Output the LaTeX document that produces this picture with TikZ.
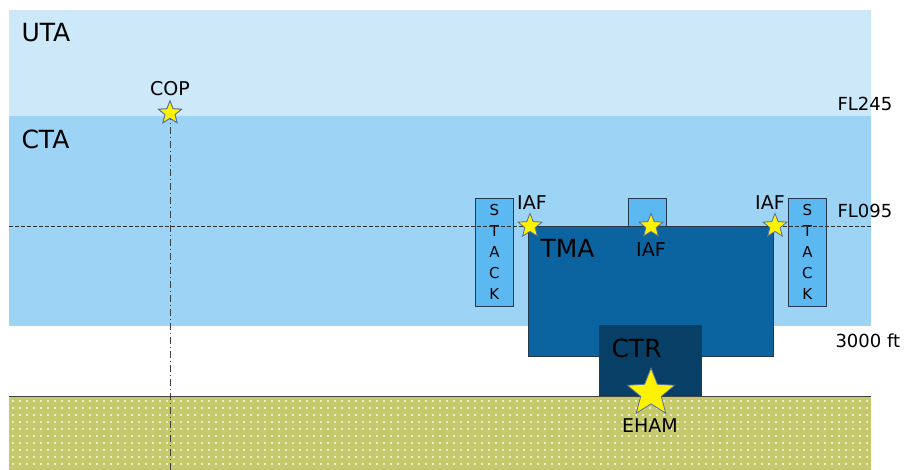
\documentclass[tikz,border=0pt]{standalone}
\usepackage{fontspec}
\setmainfont{DejaVu Sans}
\usetikzlibrary{shapes.geometric, positioning}

\definecolor{utablue}{HTML}{CDE8F9}
\definecolor{ctablue}{HTML}{9DD3F5}
\definecolor{stackblue}{HTML}{5CB8F1}
\definecolor{tmablue}{HTML}{0B64A0}
\definecolor{ctrblue}{HTML}{083F66}
\definecolor{groundgreen}{HTML}{C6C96B}
\definecolor{starrim}{HTML}{4F6DA8}
\definecolor{boxrim}{HTML}{24394F}

\begin{document}
\begin{tikzpicture}[
    x=1pt, y=-1pt,
    band/.style={draw=none, rectangle, inner sep=0pt, anchor=north west},
    airspace/.style={draw=boxrim, line width=0.8pt, rectangle, inner sep=0pt, anchor=north west},
    stackbox/.style={airspace, fill=stackblue, minimum width=38pt, minimum height=108pt,
                     align=center, font=\fontsize{15}{21}\selectfont},
    fix/.style={star, star points=5, star point ratio=2.3, inner sep=0pt,
                minimum size=25pt, fill=yellow, draw=starrim, line width=0.8pt},
    bigname/.style={font=\fontsize{25}{30}\selectfont, anchor=west},
    fixname/.style={font=\fontsize{19}{22}\selectfont},
    level/.style={font=\fontsize{18}{22}\selectfont, anchor=west},
]
\useasboundingbox (0,0) rectangle (905,470);

% --- Airspace bands ---
\node[band, fill=utablue, minimum width=862pt, minimum height=106pt] (uta) at (9,10) {};
\node[band, fill=ctablue, minimum width=862pt, minimum height=210pt] (cta) at (9,116) {};

% --- Holding stacks ---
\node[stackbox] (stackL) at (475,198) {S\\T\\A\\C\\K};
\node[stackbox] (stackR) at (788,198) {S\\T\\A\\C\\K};
\node[airspace, fill=stackblue, minimum width=38pt, minimum height=28pt] (stackM) at (628,198) {};

% --- TMA and CTR ---
\node[airspace, fill=tmablue, minimum width=245pt, minimum height=130pt] (tma) at (528,226) {};
\node[airspace, fill=ctrblue, minimum width=102pt, minimum height=71pt] (ctr) at (599,325) {};

% --- Ground ---
\node[band, fill=groundgreen, minimum width=862pt, minimum height=74pt] (ground) at (9,396) {};
\foreach \x in {12,19,...,868}
  \foreach \y in {400,407,...,466}
    \fill[white, opacity=0.65] (\x,\y) rectangle ++(1.7,1.7);
\draw[black!75, line width=0.9pt] (ground.north west) -- (ground.north east);

% --- FL095 line ---
\coordinate (fl95w) at (9,226);
\coordinate (fl95e) at (871,226);
\draw[dashed, dash pattern=on 4pt off 2pt, black!80, line width=0.6pt] (fl95w) -- (fl95e);

% --- Fixes ---
\node[fix, minimum size=24pt] (cop) at (170,113) {};
\coordinate (copfoot) at (170,470);
\draw[black!75, line width=0.7pt, dash pattern=on 7pt off 3pt on 1pt off 3pt]
    (cop.center) -- (copfoot);
\node[fix, minimum size=24pt] (cop) at (170,113) {};

\node[fix] (iafL) at (530,226) {};
\node[fix] (iafM) at (651,226) {};
\node[fix] (iafR) at (775,226) {};
\node[fix, minimum size=50pt] (eham) at (651,393) {};

% --- Labels ---
\node[bigname] (utaname) at (18,33) {UTA};
\node[bigname] (ctaname) at (18,139) {CTA};
\node[bigname] (tmaname) at (537,248) {TMA};
\node[bigname] (ctrname) at (608,348) {CTR};

\node[fixname] (copname) at (170,89) {COP};
\node[fixname] (iafLname) at (532,203) {IAF};
\node[fixname] (iafMname) at (651,250) {IAF};
\node[fixname] (iafRname) at (770,203) {IAF};
\node[fixname] (ehamname) at (650,426) {EHAM};

\node[level] (fl245) at (834,104) {FL245};
\node[level] (fl095) at (834,211) {FL095};
\node[level] (ft3000) at (832,341) {3000 ft};

\end{tikzpicture}
\end{document}
